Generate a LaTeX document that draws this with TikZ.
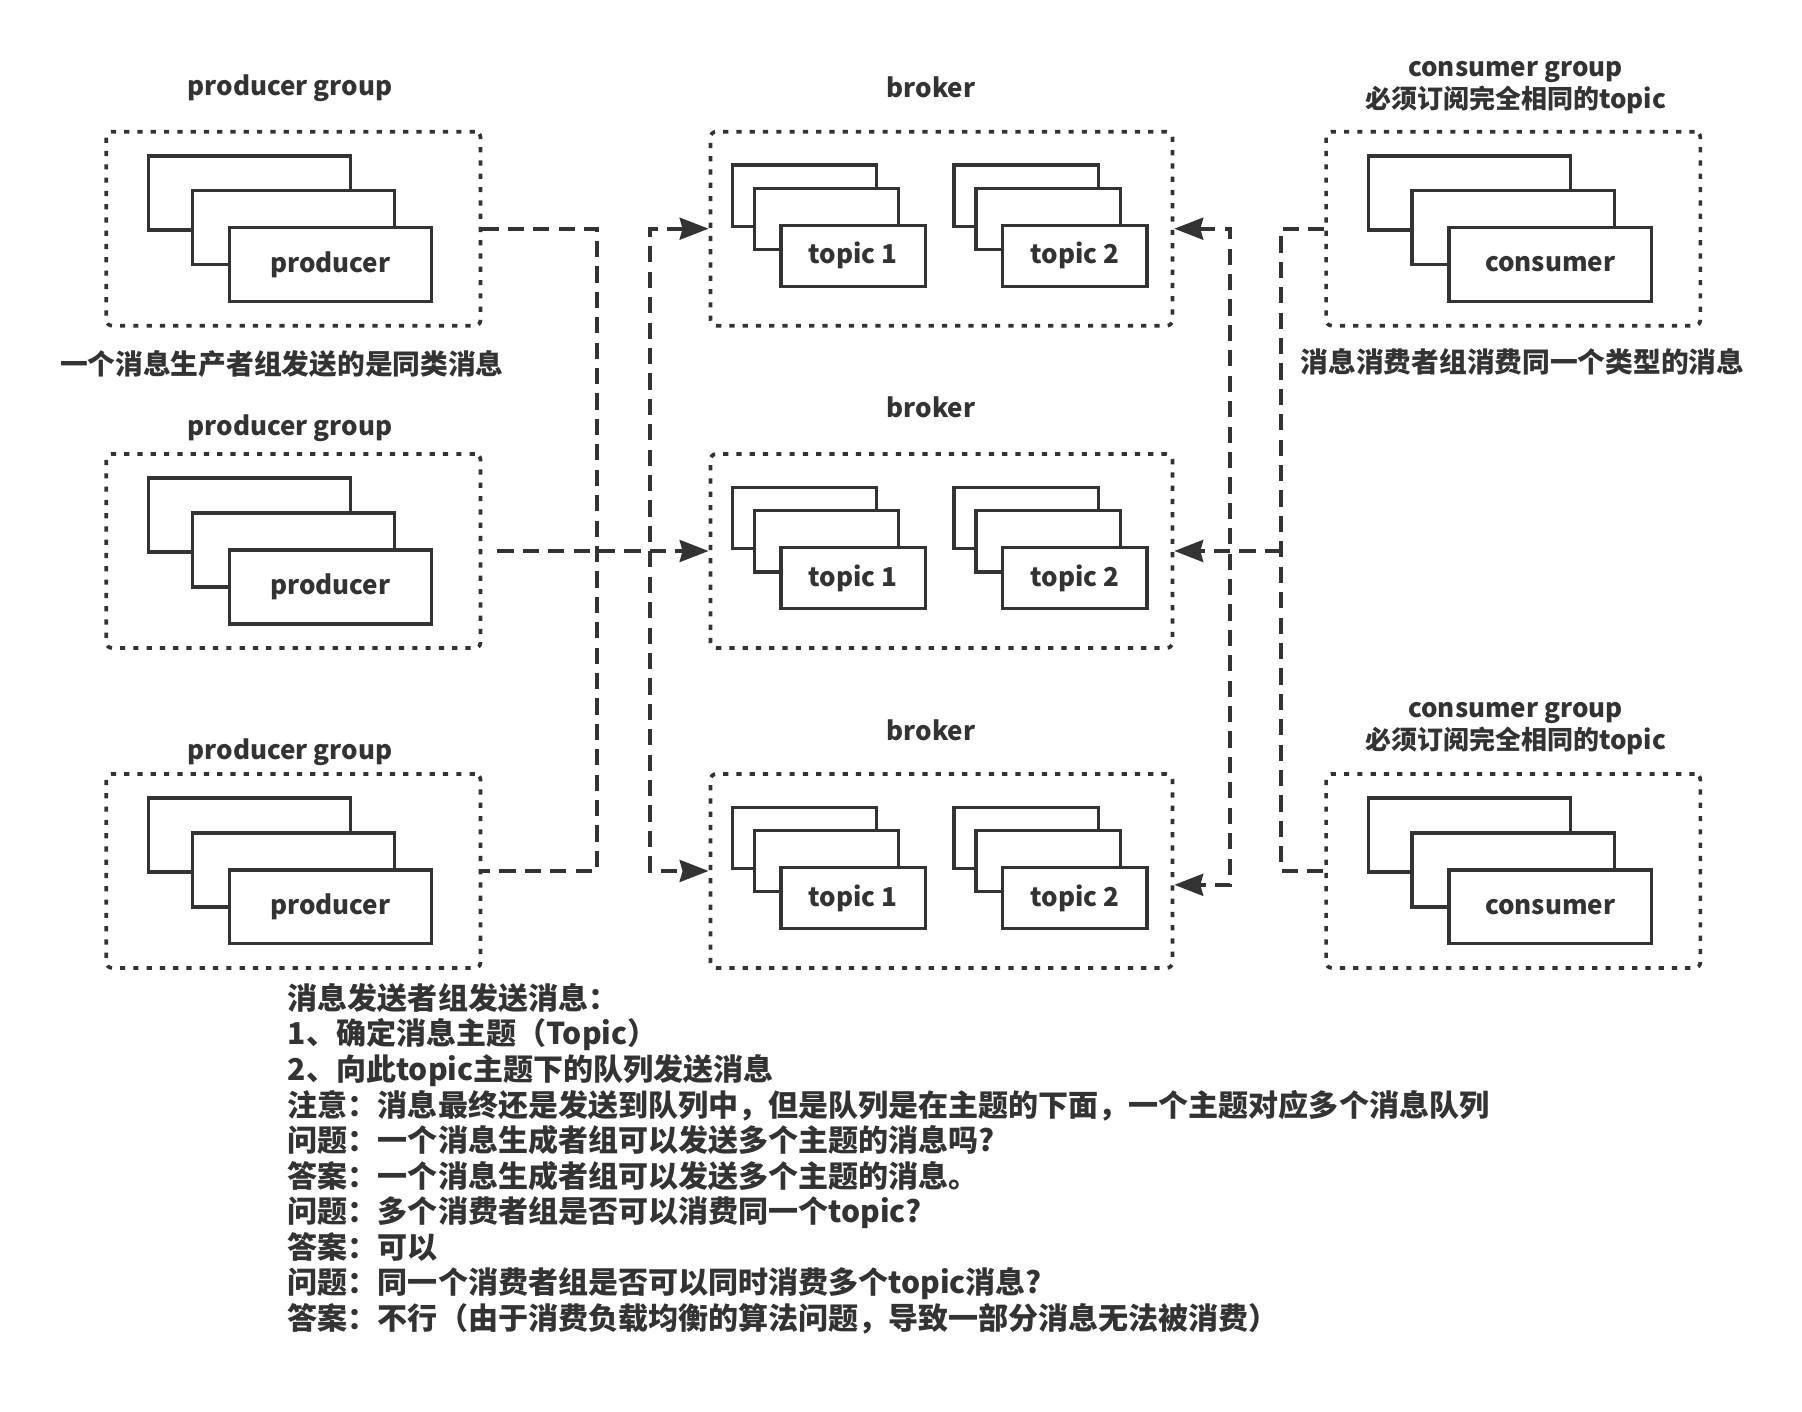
\documentclass[tikz,border=0pt]{standalone}
\usepackage{fontspec}
\setmainfont{Noto Sans CJK SC}
\usetikzlibrary{arrows.meta}
\definecolor{ink}{HTML}{333333}

\tikzset{
    groupbox/.style={draw=ink, line width=3.2pt, dash pattern=on 4.5pt off 7pt, rounded corners=5pt,
        minimum width=324pt, minimum height=168pt, inner sep=0pt},
    card/.style={draw=ink, fill=white, line width=3pt, minimum width=175pt, minimum height=64pt,
        inner sep=0pt, text=ink, font=\fontsize{22.5}{27}\selectfont\bfseries},
    topic/.style={card, minimum width=125pt, minimum height=53pt},
    title/.style={text=ink, inner sep=0pt, align=center, font=\fontsize{22.5}{27.5}\selectfont\bfseries},
    caption/.style={text=ink, inner sep=0pt, font=\fontsize{24}{28}\selectfont\bfseries},
    note/.style={text=ink, inner sep=0pt, align=left, font=\fontsize{26}{30.8}\selectfont\bfseries},
    conn/.style={draw=ink, line width=3.2pt, dash pattern=on 14pt off 8pt},
    >={Stealth[length=25pt, width=19pt, inset=2.5pt]}
}

\begin{document}
\begin{tikzpicture}[x=1pt, y=-1pt]
    \fill[white] (0,0) rectangle (1560,1222);
    \useasboundingbox (0,0) rectangle (1560,1222);

    % producer and consumer groups: box plus three stacked cards
    \foreach \grp/\x/\y/\lbl in {p1/254/198/producer, p2/254/477/producer, p3/254/754/producer,
                                 c1/1310/198/consumer, c2/1310/754/consumer} {
        \node[groupbox] (\grp) at (\x, \y) {};
        \node[card] (\grp a) at (\x-38, \y-31) {};
        \node[card] (\grp b) at (\x, \y-1) {};
        \node[card] (\grp c) at (\x+32, \y+31) {\lbl};
    }

    % brokers, each with two topic stacks
    \foreach \br/\y in {b1/198, b2/477, b3/754} {
        \node[groupbox, minimum width=400pt] (\br) at (815, \y) {};
        \foreach \tp/\dx in {1/0, 2/192} {
            \node[topic] (\br t\tp a) at (696.5+\dx, \y-28.5) {};
            \node[topic] (\br t\tp b) at (715.5+\dx, \y-8.5) {};
            \node[topic] (\br t\tp c) at (738.5+\dx, \y+23.5) {topic \tp};
        }
    }

    % titles
    \foreach \nm/\x/\y in {p1t/251/76, p2t/251/371, p3t/251/651} {
        \node[title] (\nm) at (\x, \y) {producer group};
    }
    \foreach \nm/\y in {b1t/76, b2t/353, b3t/632} {
        \node[title] (\nm) at (806, \y) {broker};
    }
    \node[title] (c1t) at (1312, 76) {consumer group\\必须订阅完全相同的topic};
    \node[title] (c2t) at (1312, 631) {consumer group\\必须订阅完全相同的topic};

    % captions
    \node[caption] (pcap) at (244, 315) {一个消息生产者组发送的是同类消息};
    \node[caption] (ccap) at (1318, 313) {消息消费者组消费同一个类型的消息};

    % bus points
    \coordinate (pbus3) at (517, 754);
    \coordinate (bbus3) at (563, 754);
    \coordinate (rbus3) at (1065, 766);
    \coordinate (cbus3) at (1109, 754);
    \coordinate (cbus2) at (1109, 477);
    \coordinate (b3r) at (b3.east |- rbus3);

    % connectors
    \draw[conn] (p1.east) -| (pbus3) -- (p3.east);
    \draw[conn, ->, shorten <=13pt] (p2.east) -- (b2.west);
    \draw[conn, <->] (b1.west) -| (bbus3) -- (b3.west);
    \draw[conn, <->] (b1.east) -| (rbus3) -- (b3r);
    \draw[conn] (c1.west) -| (cbus3) -- (c2.west);
    \draw[conn, ->] (cbus2) -- (b2.east);

    % notes
    \node[note, anchor=north west] (notes) at (249, 851) {消息发送者组发送消息：\\
        1、确定消息主题（Topic）\\
        2、向此topic主题下的队列发送消息\\
        注意：消息最终还是发送到队列中，但是队列是在主题的下面，一个主题对应多个消息队列\\
        问题：一个消息生成者组可以发送多个主题的消息吗?\\
        答案：一个消息生成者组可以发送多个主题的消息。\\
        问题：多个消费者组是否可以消费同一个topic?\\
        答案：可以\\
        问题：同一个消费者组是否可以同时消费多个topic消息?\\
        答案：不行（由于消费负载均衡的算法问题，导致一部分消息无法被消费）};
\end{tikzpicture}
\end{document}
